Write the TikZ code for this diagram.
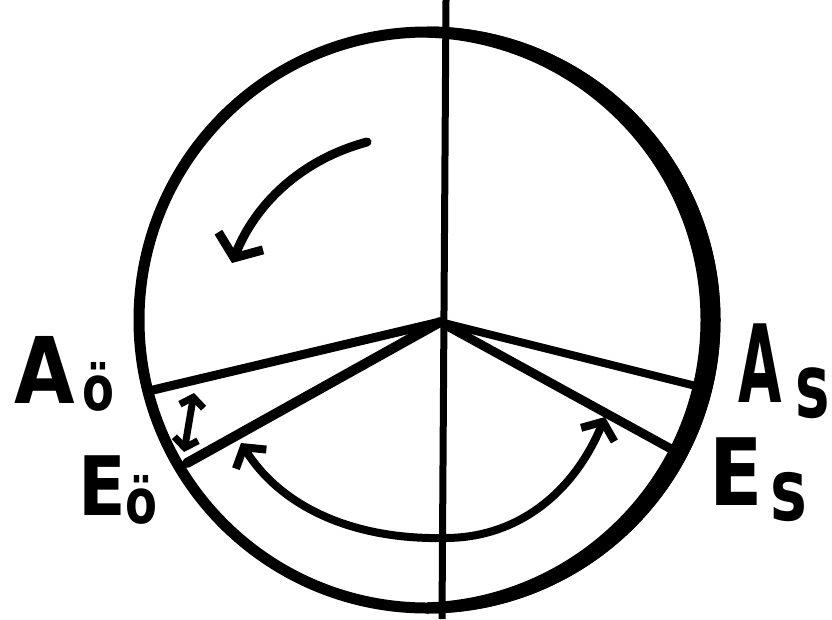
\documentclass[tikz,border=0pt]{standalone}
\usepackage{fontspec}
\setmainfont{DejaVu Sans}
\usetikzlibrary{arrows.meta}
\begin{document}
\begin{tikzpicture}[x=1pt,y=-1pt,line cap=round,line join=round,
  spoke/.style={line width=9pt},
  axis/.style={line width=7pt,line cap=butt},
  lbl/.style={inner sep=0pt,font=\bfseries,anchor=base west}]
\useasboundingbox (0,0) rectangle (832,619);
% dial
\node[draw,circle,line width=11pt,minimum size=576pt,inner sep=0pt] (dial) at (427,320) {};
\begin{scope}
  \clip (dial.center) rectangle (832,619) (dial.center) rectangle (832,0);
  \fill[even odd rule] (dial.center) circle[radius=293.5] ([xshift=-9pt]dial.center) circle[radius=282.5];
\end{scope}
% axis
\coordinate (top) at (446,0);
\coordinate (bot) at (442,619);
\draw[axis] (top) -- (bot);
% spokes
\coordinate (O) at (440,322);
\coordinate (pA) at (153,390);
\coordinate (pE) at (187,463);
\coordinate (qA) at (700,387);
\coordinate (qE) at (673,450);
\draw[spoke] (O) -- (pA);
\draw[spoke,line width=10pt] (O) -- (pE);
\draw[spoke,line width=8pt] (O) -- (qA);
\draw[spoke] (O) -- (qE);
% big angle arc
\coordinate (L) at (241,443);
\coordinate (M) at (445,538);
\coordinate (R) at (605,417);
\draw[line width=8pt,{Straight Barb[length=14pt,width=36pt]}-{Straight Barb[length=14pt,width=36pt]}]
  (L) .. controls (280,505) and (350,540) .. (M) .. controls (520,538) and (575,490) .. (R);
% small double arrow
\coordinate (sa) at (194,393);
\coordinate (sb) at (184,452);
\draw[line width=7pt,{Straight Barb[length=9pt,width=24pt]}-{Straight Barb[length=9pt,width=24pt]}] (sa) -- (sb);
% rotation arrow
\coordinate (cs) at (367,142);
\coordinate (ce) at (232,263);
\draw[line width=9pt,-{Straight Barb[length=18pt,width=48pt]}] (cs) .. controls (300,160) and (255,205) .. (ce);
% labels
\node[lbl] (lAoe) at (14,403) {\fontsize{92}{92}\selectfont\scalebox{0.85}[1]{A}\kern8pt\raisebox{-7pt}{\fontsize{62}{62}\selectfont\scalebox{0.75}[1]{ö}}};
\node[lbl] (lEoe) at (78,515) {\fontsize{82}{82}\selectfont\scalebox{0.85}[1]{E}\kern0pt\raisebox{-8pt}{\fontsize{62}{62}\selectfont\scalebox{0.75}[1]{ö}}};
\node[lbl] (lAs) at (738,402) {\fontsize{108}{108}\selectfont\scalebox{0.52}[1]{A}\kern14pt\raisebox{-15pt}{\fontsize{89}{89}\selectfont\scalebox{0.65}[1]{s}}};
\node[lbl] (lEs) at (709,505) {\fontsize{93}{93}\selectfont\scalebox{0.84}[1]{E}\kern8pt\raisebox{-15pt}{\fontsize{86}{86}\selectfont\scalebox{0.72}[1]{s}}};
\end{tikzpicture}
\end{document}
